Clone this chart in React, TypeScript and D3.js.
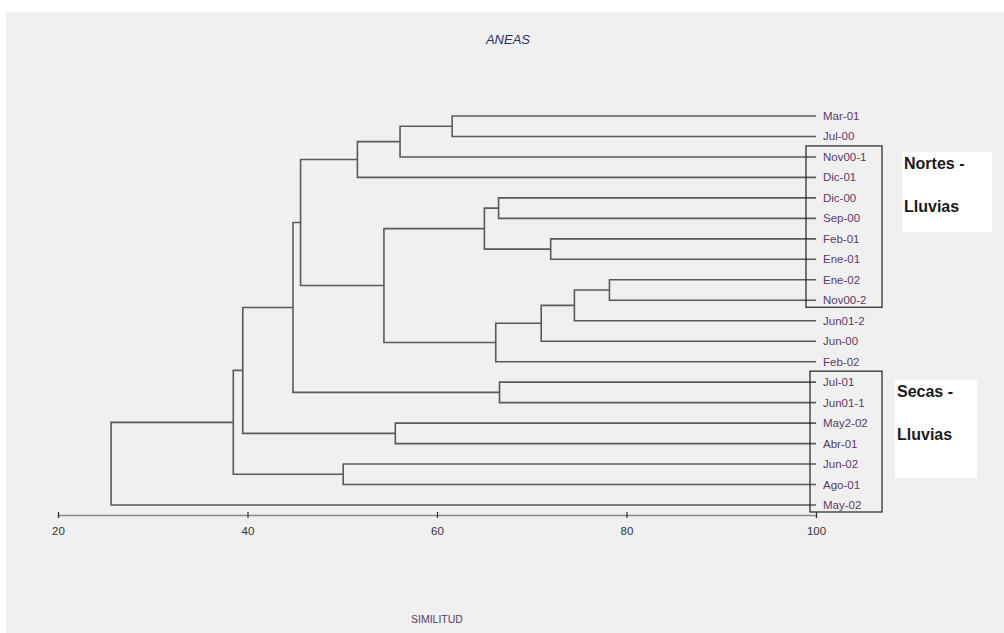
import { useEffect, useRef } from 'react';
import * as d3 from 'd3';

const leaves = [
  'Mar-01', 'Jul-00', 'Nov00-1', 'Dic-01', 'Dic-00', 'Sep-00', 'Feb-01',
  'Ene-01', 'Ene-02', 'Nov00-2', 'Jun01-2', 'Jun-00', 'Feb-02', 'Jul-01',
  'Jun01-1', 'May2-02', 'Abr-01', 'Jun-02', 'Ago-01', 'May-02',
];

// merges: [left child, right child, similarity]; "n3" means merge #3
const mergeLeft = ['Mar-01', 'n0', 'n1', 'Dic-00', 'Feb-01', 'n3', 'Ene-02', 'n6', 'n7', 'n8', 'n5', 'n2', 'Jul-01', 'n11', 'May2-02', 'n13', 'Jun-02', 'n15', 'n17'];
const mergeRight = ['Jul-00', 'Nov00-1', 'Dic-01', 'Sep-00', 'Ene-01', 'n4', 'Nov00-2', 'Jun01-2', 'Jun-00', 'Feb-02', 'n9', 'n10', 'Jun01-1', 'n12', 'Abr-01', 'n14', 'Ago-01', 'n16', 'May-02'];
const mergeSimilarity = [61.6, 56.1, 51.6, 66.5, 72.0, 65.0, 78.2, 74.5, 71.0, 66.2, 54.4, 45.6, 66.6, 44.8, 55.6, 39.5, 50.1, 38.5, 25.6];

const axisTicks = [20, 40, 60, 80, 100];

const groupBoxes = [
  { from: 'Nov00-1', to: 'Nov00-2', lines: ['Nortes -', 'Lluvias'] },
  { from: 'Jul-01', to: 'May-02', lines: ['Secas -', 'Lluvias'] },
];

const WIDTH = 1004;
const HEIGHT = 633;

export default function App() {
  const svgRef = useRef<SVGSVGElement>(null);

  useEffect(() => {
    if (!svgRef.current) return;
    const svg = d3.select(svgRef.current);
    svg.selectAll('*').remove();

    svg
      .append('rect')
      .attr('x', 6)
      .attr('y', 12)
      .attr('width', WIDTH - 6)
      .attr('height', HEIGHT - 12)
      .attr('fill', '#f0f0f0');

    const x = d3.scaleLinear().domain([20, 100]).range([58, 816]);
    const y = d3.scalePoint<string>().domain(leaves).range([116, 505]);

    const pos: Record<string, { x: number; y: number }> = {};
    leaves.forEach((name) => {
      pos[name] = { x: x(100), y: y(name) ?? 0 };
    });

    const chart = svg.append('g');
    const lineColor = '#5a5a5a';

    mergeLeft.forEach((left, i) => {
      const a = pos[left];
      const b = pos[mergeRight[i]];
      const mx = x(mergeSimilarity[i]);
      pos[`n${i}`] = { x: mx, y: (a.y + b.y) / 2 };
      chart
        .append('path')
        .attr('d', `M${a.x},${a.y}H${mx}V${b.y}H${b.x}`)
        .attr('fill', 'none')
        .attr('stroke', lineColor)
        .attr('stroke-width', 1.6);
    });

    // leaf labels
    chart
      .append('g')
      .selectAll('text')
      .data(leaves)
      .join('text')
      .attr('x', x(100) + 7)
      .attr('y', (d) => (y(d) ?? 0) + 4)
      .attr('fill', '#5c3a66')
      .attr('font-size', 11.5)
      .attr('font-family', 'Arial, "Liberation Sans", sans-serif')
      .text((d) => d);

    // axis
    const axisY = 515;
    chart
      .append('g')
      .attr('transform', `translate(0,${axisY})`)
      .call(d3.axisBottom(x).tickValues(axisTicks).tickSize(3).tickPadding(9))
      .call((g) => {
        g.select('.domain').attr('stroke', '#888').attr('stroke-width', 1.5);
        g.selectAll('.tick line')
          .attr('y1', -3)
          .attr('y2', 3)
          .attr('stroke', '#333')
          .attr('stroke-width', 1.2);
        g.selectAll('.tick text')
          .attr('fill', '#333')
          .attr('font-size', 11.5)
          .attr('font-family', 'Arial, "Liberation Sans", sans-serif');
      });

    // group boxes and notes
    const boxLeft = [806, 810];
    const noteRects = [
      { x: 902, y: 152, w: 90, h: 80 },
      { x: 895, y: 380, w: 82, h: 98 },
    ];
    groupBoxes.forEach((box, i) => {
      const top = (y(box.from) ?? 0) - 11;
      const bottom = (y(box.to) ?? 0) + 7;
      svg
        .append('rect')
        .attr('x', boxLeft[i])
        .attr('y', top)
        .attr('width', 882 - boxLeft[i])
        .attr('height', bottom - top)
        .attr('fill', 'none')
        .attr('stroke', '#222')
        .attr('stroke-width', 1.2);
      const r = noteRects[i];
      svg
        .append('rect')
        .attr('x', r.x)
        .attr('y', r.y)
        .attr('width', r.w)
        .attr('height', r.h)
        .attr('fill', '#ffffff');
      svg
        .append('g')
        .selectAll('text')
        .data(box.lines)
        .join('text')
        .attr('x', r.x + 2)
        .attr('y', (_, j) => r.y + 17 + j * 43)
        .attr('fill', '#1a1a1a')
        .attr('font-size', 16)
        .attr('font-weight', 'bold')
        .attr('font-family', 'Arial, "Liberation Sans", sans-serif')
        .text((d) => d);
    });

    svg
      .append('text')
      .attr('x', 508)
      .attr('y', 44)
      .attr('text-anchor', 'middle')
      .attr('font-style', 'italic')
      .attr('font-size', 13)
      .attr('fill', '#2d2d6e')
      .attr('font-family', 'Arial, "Liberation Sans", sans-serif')
      .text('ANEAS');

    svg
      .append('text')
      .attr('x', x(60))
      .attr('y', 623)
      .attr('text-anchor', 'middle')
      .attr('font-size', 10.5)
      .attr('fill', '#5c3a66')
      .attr('font-family', 'Arial, "Liberation Sans", sans-serif')
      .text('SIMILITUD');
  }, []);

  return (
    <svg
      ref={svgRef}
      width={WIDTH}
      height={HEIGHT}
      style={{ position: 'absolute', left: 0, top: 0, background: '#ffffff' }}
    />
  );
}
